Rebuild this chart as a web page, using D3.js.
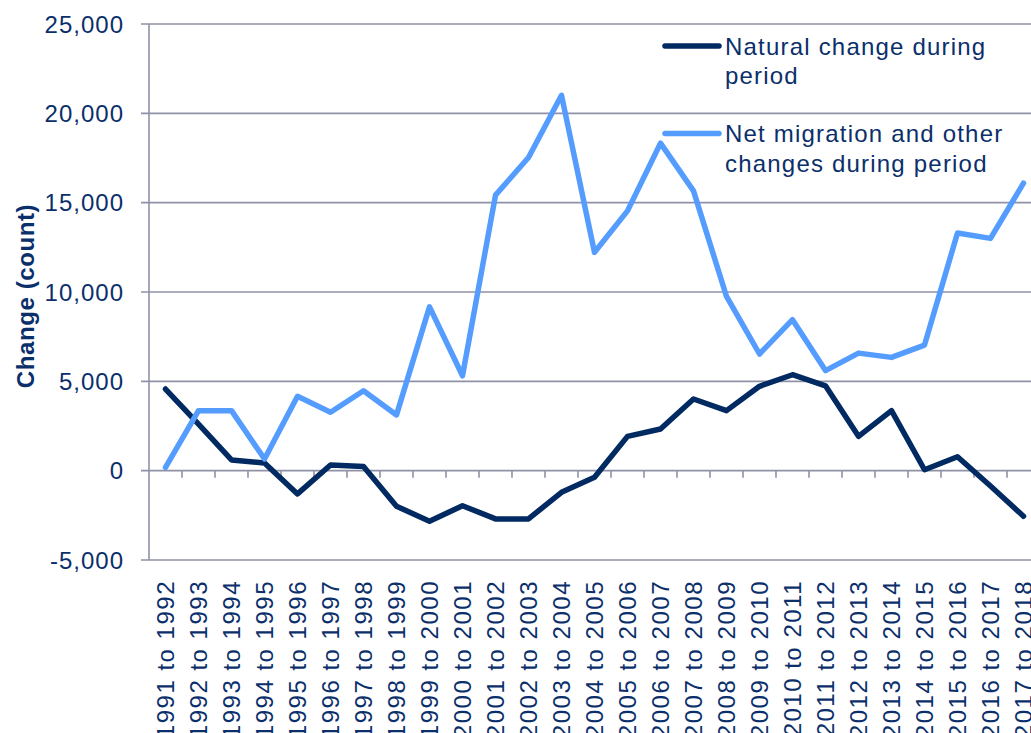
<!DOCTYPE html>
<html>
<head>
<meta charset="utf-8">
<script src="https://cdn.jsdelivr.net/npm/d3@7"></script>
<style>
  html, body { margin: 0; padding: 0; background: #fff; }
  svg { display: block; }
  text { font-family: "Liberation Sans", Arial, sans-serif; fill: #0b2f6b; }
</style>
</head>
<body>
<svg id="chart" width="1031" height="733"></svg>
<script>
const categories = [
  "1991 to 1992","1992 to 1993","1993 to 1994","1994 to 1995","1995 to 1996",
  "1996 to 1997","1997 to 1998","1998 to 1999","1999 to 2000","2000 to 2001",
  "2001 to 2002","2002 to 2003","2003 to 2004","2004 to 2005","2005 to 2006",
  "2006 to 2007","2007 to 2008","2008 to 2009","2009 to 2010","2010 to 2011",
  "2011 to 2012","2012 to 2013","2013 to 2014","2014 to 2015","2015 to 2016",
  "2016 to 2017","2017 to 2018"
];
const naturalChange = [4570, 2600, 600, 430, -1300, 320, 230, -1990, -2830, -1960,
  -2700, -2700, -1210, -370, 1920, 2330, 4010, 3360, 4720, 5370,
  4750, 1920, 3360, 50, 780, -860, -2550];
const netMigration = [190, 3360, 3360, 650, 4160, 3270, 4470, 3120, 9170, 5310,
  15420, 17530, 21010, 12220, 14540, 18330, 15660, 9750, 6530, 8450,
  5600, 6580, 6340, 7030, 13300, 13000, 16090];
const yTicks = [-5000, 0, 5000, 10000, 15000, 20000, 25000];
const seriesNames = ["Natural change during period", "Net migration and other changes during period"];
const legendLines = [["Natural change during", "period"], ["Net migration and other", "changes during period"]];

const colors = ["#002a61", "#559cff"];
const gridColor = "#8f92a6";

const svg = d3.select("#chart");
const plotLeft = 149, plotTop = 24, plotBottom = 560, step = 33;
const plotRight = plotLeft + step * categories.length;

const x = d3.scalePoint().domain(categories).range([plotLeft, plotRight]).padding(0.5);
const y = d3.scaleLinear().domain([-5000, 25000]).range([plotBottom, plotTop]);
const fmt = d3.formatLocale({decimal: ".", thousands: ",", grouping: [3], currency: ["", ""], minus: "-"}).format(",");

// gridlines + left ticks
svg.append("g").selectAll("line").data(yTicks).join("line")
  .attr("x1", plotLeft - 8).attr("x2", 1031)
  .attr("y1", d => y(d)).attr("y2", d => y(d))
  .attr("stroke", gridColor).attr("stroke-width", 1.6);

// y axis line
svg.append("line").attr("x1", plotLeft).attr("x2", plotLeft).attr("y1", plotTop).attr("y2", plotBottom)
  .attr("stroke", gridColor).attr("stroke-width", 1.6);

// category tick marks on zero line
const boundaries = categories.slice(1).map(c => x(c) - step / 2);
svg.append("g").selectAll("line").data(boundaries).join("line")
  .attr("x1", d => d).attr("x2", d => d)
  .attr("y1", y(0)).attr("y2", y(0) + 7)
  .attr("stroke", gridColor).attr("stroke-width", 1.6);

// y tick labels
svg.append("g").selectAll("text").data(yTicks).join("text")
  .attr("x", 124).attr("y", d => y(d)).attr("dy", "0.36em")
  .attr("text-anchor", "end")
  .style("font-size", "24px").style("letter-spacing", "1px")
  .text(d => fmt(d));

// y title
svg.append("text")
  .attr("transform", "translate(34,296) rotate(-90)")
  .attr("text-anchor", "middle")
  .style("font-size", "24px").style("font-weight", "bold").style("letter-spacing", "0.6px")
  .text("Change (count)");

// x labels
svg.append("g").selectAll("text").data(categories).join("text")
  .attr("transform", d => `translate(${x(d) + 8.6},580) rotate(-90)`)
  .attr("text-anchor", "end")
  .style("font-size", "24px").style("letter-spacing", "1.5px")
  .text(d => d);

// lines
const lineGen = d3.line().x((d, i) => x(categories[i])).y(d => y(d));
[naturalChange, netMigration].forEach((s, k) => {
  svg.append("path").datum(s)
    .attr("d", lineGen)
    .attr("fill", "none")
    .attr("stroke", colors[k])
    .attr("stroke-width", 5.5)
    .attr("stroke-linejoin", "round")
    .attr("stroke-linecap", "round");
});

// legend
const legendY = [46, 133.5];
legendLines.forEach((lines, k) => {
  const g = svg.append("g");
  g.append("line").attr("x1", 665).attr("x2", 719)
    .attr("y1", legendY[k]).attr("y2", legendY[k])
    .attr("stroke", colors[k]).attr("stroke-width", 5.5).attr("stroke-linecap", "round");
  lines.forEach((t, j) => {
    g.append("text").attr("x", 725).attr("y", legendY[k] + 8.5 + j * 29.5)
      .style("font-size", "24px").style("letter-spacing", "1.2px")
      .text(t);
  });
});
</script>
</body>
</html>
